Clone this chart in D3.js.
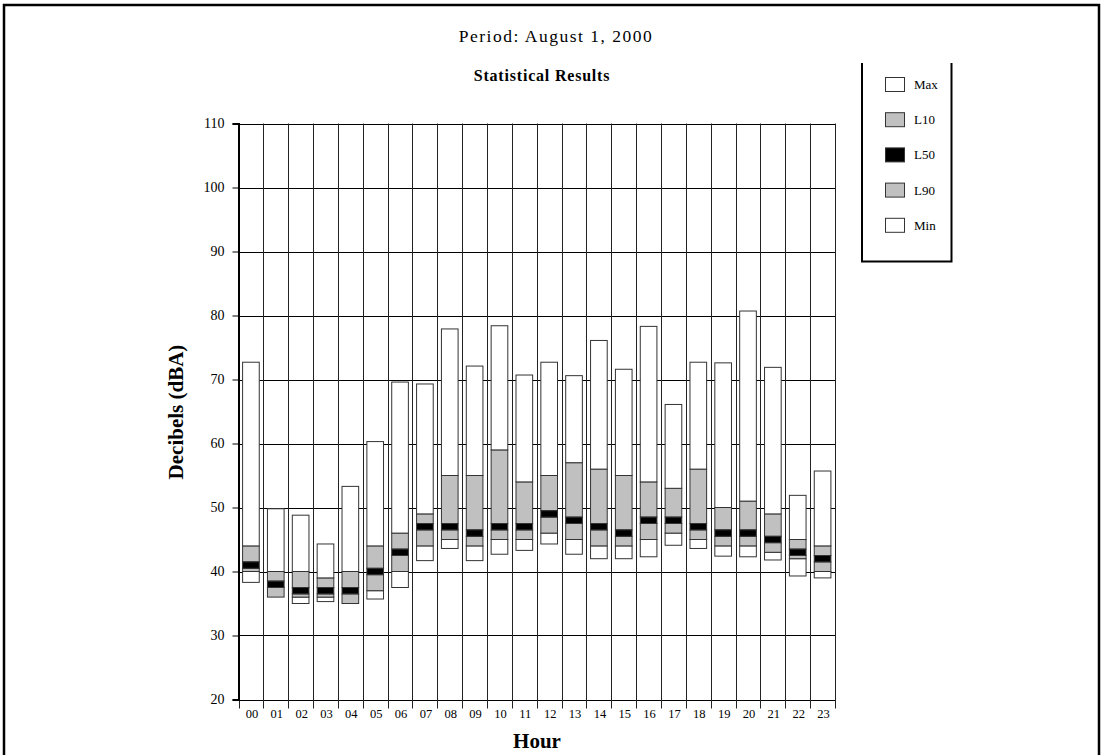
<!DOCTYPE html>
<html>
<head>
<meta charset="utf-8">
<script src="https://cdn.jsdelivr.net/npm/d3@7"></script>
<style>
  body { margin: 0; background: #fff; }
  svg { display: block; font-family: "Liberation Serif", "Times New Roman", serif; }
</style>
</head>
<body>
<svg id="chart"></svg>
<script>
const width = 1101
const height = 755

// hour categories / tick labels
const hours = ['00','01','02','03','04','05','06','07','08','09','10','11','12','13','14','15','16','17','18','19','20','21','22','23']
// dBA values per hour
const maxVals = [72.7, 49.8, 48.8, 44.3, 53.3, 60.3, 69.6, 69.3, 77.9, 72.1, 78.4, 70.7, 72.7, 70.6, 76.1, 71.6, 78.3, 66.1, 72.7, 72.6, 80.7, 71.9, 51.9, 55.7]
const l10Vals = [44, 40, 40, 39, 40, 44, 46, 49, 55, 55, 59, 54, 55, 57, 56, 55, 54, 53, 56, 50, 51, 49, 45, 44]
const l50Vals = [41, 38, 37, 37, 37, 40, 43, 47, 47, 46, 47, 47, 49, 48, 47, 46, 48, 48, 47, 46, 46, 45, 43, 42]
const l90Vals = [40, 36, 36, 36, 35, 37, 40, 44, 45, 44, 45, 45, 46, 45, 44, 44, 45, 46, 45, 44, 44, 43, 42, 40]
const minVals = [38.3, 36, 35, 35.3, 35, 35.7, 37.5, 41.7, 43.6, 41.7, 42.7, 43.3, 44.3, 42.7, 42, 42, 42.3, 44.1, 43.6, 42.4, 42.3, 41.8, 39.3, 39]
const yTicks = [20, 30, 40, 50, 60, 70, 80, 90, 100, 110]
const legendLabels = ['Max', 'L10', 'L50', 'L90', 'Min']
const legendFills = ['#ffffff', '#c0c0c0', '#000000', '#c0c0c0', '#ffffff']

const plot = {left: 238.5, right: 835, top: 123.5, bottom: 699.5}

const svg = d3.select('#chart').attr('width', width).attr('height', height)

// outer frame
svg.append('rect').attr('x', 4).attr('y', 5).attr('width', 1095).attr('height', 800)
  .attr('fill', 'none').attr('stroke', '#000').attr('stroke-width', 2.5)

// scales
const xCat = d3.scaleBand().domain(hours).range([plot.left, plot.right])
const xBar = d3.scaleBand().domain(hours).range([plot.left, plot.right]).paddingInner(0.33).paddingOuter(0.165)
const y = d3.scaleLinear().domain([20, 110]).range([plot.bottom, plot.top])

// gridlines
const grid = svg.append('g')
grid.selectAll('.hgrid').data(yTicks).enter().append('line')
  .attr('x1', plot.left).attr('x2', plot.right)
  .attr('y1', d => Math.round(y(d)) + 0.5).attr('y2', d => Math.round(y(d)) + 0.5)
  .attr('stroke', '#000').attr('stroke-width', 1.2)
const bounds = hours.map(h => xCat(h)).concat([plot.right])
grid.selectAll('.vgrid').data(bounds).enter().append('line')
  .attr('x1', d => Math.round(d) + 0.5).attr('x2', d => Math.round(d) + 0.5)
  .attr('y1', plot.top).attr('y2', plot.bottom + 9)
  .attr('stroke', '#222').attr('stroke-width', 1)

// y axis
const yAxis = d3.axisLeft(y).tickValues(yTicks).tickSize(6).tickPadding(8)
const ga = svg.append('g').attr('transform', `translate(${plot.left},0)`).call(yAxis)
ga.select('.domain').attr('stroke-width', 2)
ga.selectAll('text').attr('font-size', 14).attr('font-family', '"Liberation Serif", serif').attr('fill', '#000')

// x tick labels
svg.append('g').selectAll('text').data(hours).enter().append('text')
  .attr('x', d => xCat(d) + xCat.bandwidth() / 2 + 1)
  .attr('y', 718)
  .attr('text-anchor', 'middle')
  .attr('font-size', 12.5)
  .text(d => d)

// bars: segments min->L90, L90->L50, L50 band, L50->L10, L10->max
const segs = []
hours.forEach((h, i) => {
  const m = l50Vals[i]
  segs.push({h, lo: minVals[i], hi: l90Vals[i], fill: '#ffffff'})
  segs.push({h, lo: l90Vals[i], hi: m - 0.5, fill: '#c0c0c0'})
  segs.push({h, lo: l50Vals[i] + 0.5, hi: l10Vals[i], fill: '#c0c0c0'})
  segs.push({h, lo: l10Vals[i], hi: maxVals[i], fill: '#ffffff'})
  segs.push({h, lo: m - 0.5, hi: m + 0.5, fill: '#000000'})
})
svg.append('g').selectAll('rect').data(segs.filter(s => s.hi > s.lo)).enter().append('rect')
  .attr('x', d => xBar(d.h))
  .attr('width', xBar.bandwidth())
  .attr('y', d => y(d.hi))
  .attr('height', d => y(d.lo) - y(d.hi))
  .attr('fill', d => d.fill)
  .attr('stroke', '#333')
  .attr('stroke-width', 1)

// titles
svg.append('text').attr('x', 556).attr('y', 42).attr('text-anchor', 'middle')
  .attr('font-size', 17.5).attr('letter-spacing', 1.5).text('Period: August 1, 2000')
svg.append('text').attr('x', 542).attr('y', 81).attr('text-anchor', 'middle')
  .attr('font-size', 16).attr('font-weight', 'bold').attr('letter-spacing', 0.8).text('Statistical Results')

// axis titles
svg.append('text').attr('transform', 'translate(183,412) rotate(-90)').attr('text-anchor', 'middle')
  .attr('font-size', 21).attr('font-weight', 'bold').text('Decibels (dBA)')
svg.append('text').attr('x', 537).attr('y', 748).attr('text-anchor', 'middle')
  .attr('font-size', 21).attr('font-weight', 'bold').text('Hour')

// legend
const lg = svg.append('g')
lg.append('path').attr('d', 'M862,63V261.5H951.5V63')
  .attr('fill', 'none').attr('stroke', '#000').attr('stroke-width', 2)
const items = lg.selectAll('.item').data(legendLabels).enter().append('g')
  .attr('transform', (d, i) => `translate(885,${84.5 + i * 35.2})`)
items.append('rect').attr('x', 0.5).attr('y', -7).attr('width', 19).attr('height', 14)
  .attr('fill', (d, i) => legendFills[i]).attr('stroke', '#333').attr('stroke-width', 1)
items.append('text').attr('x', 29).attr('y', 4.5).attr('font-size', 13).text(d => d)
</script>
</body>
</html>
